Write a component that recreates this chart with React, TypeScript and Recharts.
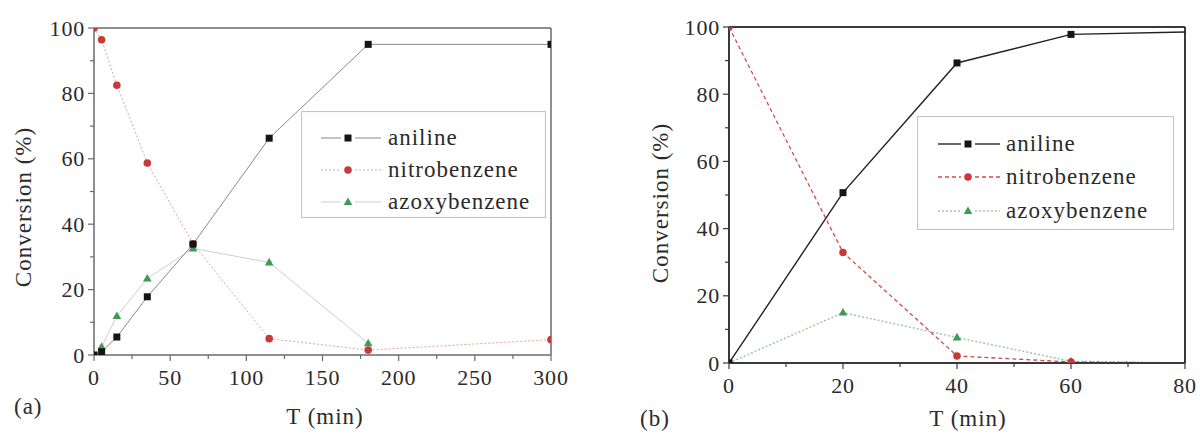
import React from 'react';
import { LineChart, Line, XAxis, YAxis, Legend, Label, ReferenceLine } from 'recharts';

// ---------- data ----------
const leftTime = [0, 5, 15, 35, 65, 115, 180, 300];
const leftAniline = [0, 1, 5.5, 17.8, 33.9, 66.3, 95.0, 95.0];
const leftNitrobenzene = [100, 96.4, 82.5, 58.7, 34.0, 5.0, 1.5, 4.7];
const leftAzoxybenzene: (number | null)[] = [0, 2.5, 11.9, 23.4, 32.6, 28.3, 3.6, null];

const rightTime = [0, 20, 40, 60, 80];
const rightAniline = [0, 50.7, 89.3, 97.8, 98.5];
const rightNitrobenzene = [100, 32.9, 2.1, 0.3, 0];
const rightAzoxybenzene = [0, 15.0, 7.6, 0.5, 0];

const leftXTicks = [0, 25, 50, 75, 100, 125, 150, 175, 200, 225, 250, 275, 300];
const leftXMajor = [0, 50, 100, 150, 200, 250, 300];
const rightXTicks = [0, 10, 20, 30, 40, 50, 60, 70, 80];
const rightXMajor = [0, 20, 40, 60, 80];
const yTicks = [0, 10, 20, 30, 40, 50, 60, 70, 80, 90, 100];
const yMajor = [0, 20, 40, 60, 80, 100];

const seriesNames = ['aniline', 'nitrobenzene', 'azoxybenzene'];
const seriesKeys = ['aniline', 'nitrobenzene', 'azoxybenzene'];
const xTitle = 'T (min)';
const yTitle = 'Conversion (%)';
const panelLabels = ['(a)', '(b)'];

const leftData = leftTime.map((t, i) => ({
  t,
  aniline: leftAniline[i],
  nitrobenzene: leftNitrobenzene[i],
  azoxybenzene: leftAzoxybenzene[i],
}));
const rightData = rightTime.map((t, i) => ({
  t,
  aniline: rightAniline[i],
  nitrobenzene: rightNitrobenzene[i],
  azoxybenzene: rightAzoxybenzene[i],
}));

// ---------- styles ----------
const FONT = "'Liberation Serif', 'Times New Roman', serif";
const TEXT = '#2b2b2b';

type Style = { stroke: string; width: number; dash?: string; marker: 'square' | 'circle' | 'tri'; fill: string };

const leftStyles: Style[] = [
  { stroke: '#8a8a8a', width: 1, marker: 'square', fill: '#151515' },
  { stroke: '#e3a3a3', width: 1, dash: '2 2', marker: 'circle', fill: '#c83a3a' },
  { stroke: '#cfcfcf', width: 1, marker: 'tri', fill: '#3f9a52' },
];
const rightStyles: Style[] = [
  { stroke: '#222222', width: 1.4, marker: 'square', fill: '#151515' },
  { stroke: '#d24a4a', width: 1.3, dash: '4 3', marker: 'circle', fill: '#c83a3a' },
  { stroke: '#a9c2a9', width: 1.5, dash: '2 2', marker: 'tri', fill: '#3f9a52' },
];

function Marker({ kind, cx, cy, fill }: { kind: string; cx: number; cy: number; fill: string }) {
  if (kind === 'square') return <rect x={cx - 3.5} y={cy - 3.5} width={7} height={7} fill={fill} />;
  if (kind === 'circle') return <circle cx={cx} cy={cy} r={3.8} fill={fill} />;
  return <polygon points={`${cx},${cy - 4.6} ${cx + 4.3},${cy + 3} ${cx - 4.3},${cy + 3}`} fill={fill} />;
}

const makeDot = (st: Style, hidden: number[]) => (p: any) => {
  if (p.cx == null || p.cy == null || p.value == null || hidden.includes(p.index)) return <g key={`d${p.index}`} />;
  return (
    <g key={`d${p.index}`}>
      <Marker kind={st.marker} cx={p.cx} cy={p.cy} fill={st.fill} />
    </g>
  );
};

const makeXTick = (majors: number[], color: string, labelDy: number) => (props: any) => {
  const { x, y, payload } = props;
  const major = majors.includes(payload.value);
  return (
    <g>
      <line x1={x} y1={y} x2={x} y2={y + (major ? 6 : 4)} stroke={color} strokeWidth={1.2} />
      {major && (
        <text x={x} y={y + labelDy} textAnchor="middle" fontSize={22} fontFamily={FONT} fill={TEXT} letterSpacing={0.8}>
          {payload.value}
        </text>
      )}
    </g>
  );
};

const makeYTick = (majors: number[], color: string) => (props: any) => {
  const { x, y, payload } = props;
  const major = majors.includes(payload.value);
  return (
    <g>
      <line x1={x} y1={y} x2={x - (major ? 6 : 4)} y2={y} stroke={color} strokeWidth={1.2} />
      {major && (
        <text x={x - 9} y={y + 7.5} textAnchor="end" fontSize={22} fontFamily={FONT} fill={TEXT} letterSpacing={0.8}>
          {payload.value}
        </text>
      )}
    </g>
  );
};

type LegendCfg = { left: number; top: number; width: number; height: number; symX0: number; symX1: number; markX: number; textX: number; rows: number[] };

function LegendBox({ cfg, styles }: { cfg: LegendCfg; styles: Style[] }) {
  return (
    <svg width={cfg.width} height={cfg.height} style={{ display: 'block' }}>
      <rect x={0.5} y={0.5} width={cfg.width - 1} height={cfg.height - 1} fill="#ffffff" stroke="#c4c4c4" strokeWidth={1.2} />
      {seriesNames.map((name, i) => {
        const st = styles[i];
        const y = cfg.rows[i];
        return (
          <g key={name}>
            <line x1={cfg.symX0} y1={y} x2={cfg.markX - 7} y2={y} stroke={st.stroke} strokeWidth={st.width} strokeDasharray={st.dash} />
            <line x1={cfg.markX + 7} y1={y} x2={cfg.symX1} y2={y} stroke={st.stroke} strokeWidth={st.width} strokeDasharray={st.dash} />
            <Marker kind={st.marker} cx={cfg.markX} cy={y} fill={st.fill} />
            <text x={cfg.textX} y={y + 7} fontSize={23} fontFamily={FONT} fill={TEXT} letterSpacing={1}>
              {name}
            </text>
          </g>
        );
      })}
    </svg>
  );
}

type PanelProps = {
  left: number;
  data: any[];
  xTicks: number[];
  xMajor: number[];
  xMax: number;
  margin: { top: number; right: number; bottom: number; left: number };
  styles: Style[];
  legend: LegendCfg;
  hidden: number[];
  frame: string;
  frameWidth: number;
  axisColor: string;
  yTitlePos: [number, number];
  xTitlePos: [number, number];
  panelPos: [number, number];
  panelLabel: string;
  xLabelDy: number;
};

function Panel(p: PanelProps) {
  const order = [2, 1, 0];
  return (
    <div style={{ position: 'absolute', left: p.left, top: 0, width: 600, height: 437 }}>
      <LineChart width={600} height={437} data={p.data} margin={p.margin}>
        <XAxis
          dataKey="t"
          type="number"
          domain={[0, p.xMax]}
          ticks={p.xTicks}
          interval={0}
          tickSize={0}
          tickMargin={0}
          tickLine={false}
          height={30}
          axisLine={{ stroke: p.axisColor, strokeWidth: p.frameWidth }}
          tick={makeXTick(p.xMajor, p.axisColor, p.xLabelDy)}
          allowDataOverflow
        >
          <Label
            content={() => (
              <g>
                <text x={p.xTitlePos[0]} y={p.xTitlePos[1]} textAnchor="middle" fontSize={23} fontFamily={FONT} fill={TEXT} letterSpacing={1}>
                  {xTitle}
                </text>
                <text x={p.panelPos[0]} y={p.panelPos[1]} textAnchor="start" fontSize={23} fontFamily={FONT} fill={TEXT} letterSpacing={1}>
                  {p.panelLabel}
                </text>
              </g>
            )}
          />
        </XAxis>
        <YAxis
          type="number"
          domain={[0, 100]}
          ticks={yTicks}
          interval={0}
          tickSize={0}
          tickMargin={0}
          tickLine={false}
          width={60}
          axisLine={{ stroke: p.axisColor, strokeWidth: p.frameWidth }}
          tick={makeYTick(yMajor, p.axisColor)}
          allowDataOverflow
        >
          <Label
            content={() => (
              <text
                x={p.yTitlePos[0]}
                y={p.yTitlePos[1]}
                transform={`rotate(-90 ${p.yTitlePos[0]} ${p.yTitlePos[1]})`}
                textAnchor="middle"
                dominantBaseline="central"
                fontSize={23}
                fontFamily={FONT}
                fill={TEXT}
                letterSpacing={1}
              >
                {yTitle}
              </text>
            )}
          />
        </YAxis>
        <ReferenceLine y={100} stroke={p.frame} strokeWidth={p.frameWidth} ifOverflow="extendDomain" />
        <ReferenceLine x={p.xMax} stroke={p.frame} strokeWidth={p.frameWidth} ifOverflow="extendDomain" />
        {order.map((i) => {
          const st = p.styles[i];
          return (
            <Line
              key={seriesKeys[i]}
              type="linear"
              dataKey={seriesKeys[i]}
              name={seriesNames[i]}
              stroke={st.stroke}
              strokeWidth={st.width}
              strokeDasharray={st.dash}
              dot={makeDot(st, p.hidden)}
              activeDot={false}
              isAnimationActive={false}
              connectNulls={false}
            />
          );
        })}
        <Legend
          layout="horizontal"
          verticalAlign="middle"
          align="center"
          wrapperStyle={{ left: p.legend.left, top: p.legend.top, width: p.legend.width, height: p.legend.height }}
          content={() => <LegendBox cfg={p.legend} styles={p.styles} />}
        />
      </LineChart>
    </div>
  );
}

export default function App() {
  return (
    <div style={{ position: 'absolute', left: 0, top: 0, width: 1200, height: 437, background: '#ffffff', overflow: 'hidden' }}>
      <Panel
        left={0}
        data={leftData}
        xTicks={leftXTicks}
        xMajor={leftXMajor}
        xMax={300}
        margin={{ top: 28, right: 49, bottom: 52, left: 34 }}
        styles={leftStyles}
        legend={{ left: 301, top: 111, width: 245, height: 107, symX0: 20, symX1: 80, markX: 47, textX: 87, rows: [27, 59, 91] }}
        hidden={[]}
        frame="#6a6a6a"
        frameWidth={1.5}
        axisColor="#6a6a6a"
        yTitlePos={[23, 207]}
        xTitlePos={[325, 424]}
        panelPos={[14, 414]}
        panelLabel={panelLabels[0]}
        xLabelDy={30}
      />
      <Panel
        left={600}
        data={rightData}
        xTicks={rightXTicks}
        xMajor={rightXMajor}
        xMax={80}
        margin={{ top: 27, right: 15, bottom: 44, left: 69 }}
        styles={rightStyles}
        legend={{ left: 317, top: 116, width: 257, height: 114, symX0: 21, symX1: 83, markX: 51, textX: 89, rows: [28, 61, 95] }}
        hidden={[4]}
        frame="#3a3a3a"
        frameWidth={2}
        axisColor="#3a3a3a"
        yTitlePos={[60, 203]}
        xTitlePos={[368, 426]}
        panelPos={[40, 426]}
        panelLabel={panelLabels[1]}
        xLabelDy={30}
      />
    </div>
  );
}
